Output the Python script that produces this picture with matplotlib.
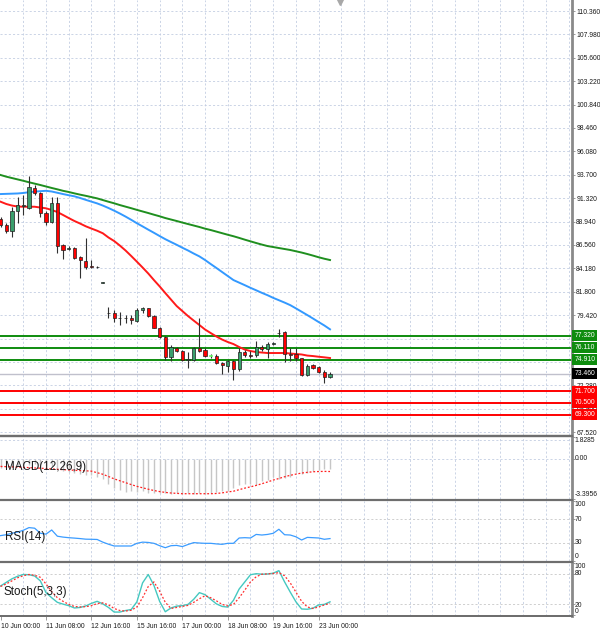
import matplotlib
matplotlib.use('Agg')
import matplotlib.pyplot as plt
from matplotlib.patches import Rectangle
import matplotlib.transforms as mtransforms

# ---------------- data ----------------
opens = [89.20, 88.59, 88.01, 90.04, 90.52, 90.29, 92.38, 91.81, 89.84, 88.93,
         90.79, 86.55, 86.12, 86.28, 85.30, 84.96, 84.42, 84.30, 82.70, 79.62,
         79.61, 79.11, 79.10, 79.16, 78.82, 79.91, 80.12, 79.36, 78.14, 77.23,
         75.19, 76.11, 75.77, 74.85, 74.85, 76.11, 75.87, 75.25, 75.29, 74.58,
         74.28, 74.75, 73.94, 75.70, 75.30, 75.36, 76.21, 75.98, 76.48, 77.57,
         77.74, 75.37, 75.44, 75.03, 73.33, 74.35, 74.17, 73.65, 73.16]
highs = [89.40, 88.79, 90.45, 91.47, 91.64, 93.57, 92.66, 91.98, 90.01, 91.47,
         91.41, 86.66, 86.45, 86.38, 85.44, 87.24, 85.03, 84.42, 82.76, 80.28,
         79.94, 79.71, 79.44, 79.44, 80.12, 80.22, 80.18, 79.43, 78.24, 77.33,
         76.38, 76.21, 75.87, 75.64, 76.21, 79.16, 76.04, 75.47, 75.43, 74.68,
         74.85, 74.85, 76.11, 75.87, 75.77, 76.79, 76.38, 76.66, 76.72, 78.00,
         77.81, 76.05, 76.05, 75.09, 74.42, 74.45, 74.28, 73.82, 73.64]
lows = [88.39, 87.74, 87.34, 88.76, 89.61, 90.19, 91.64, 89.43, 88.59, 88.82,
        85.77, 85.10, 86.05, 85.10, 83.17, 84.08, 84.19, 84.19, 82.68, 79.16,
        78.75, 78.41, 78.59, 78.49, 78.72, 79.61, 79.26, 78.08, 77.12, 74.85,
        74.75, 75.67, 74.75, 74.07, 74.75, 75.64, 75.19, 75.06, 74.42, 73.40,
        73.67, 72.82, 73.74, 75.19, 75.09, 75.19, 75.77, 75.03, 76.38, 77.22,
        74.68, 74.75, 74.75, 73.23, 73.26, 73.94, 73.50, 72.49, 73.05]
closes = [88.59, 88.01, 90.04, 90.62, 90.62, 92.47, 91.81, 89.84, 88.93, 90.86,
          86.45, 86.05, 86.28, 85.20, 85.03, 84.35, 84.29, 84.28, 82.74, 79.64,
          79.10, 79.09, 79.10, 78.90, 79.94, 80.12, 79.36, 78.14, 77.23, 75.19,
          76.21, 75.77, 74.85, 74.95, 76.11, 75.77, 75.29, 75.28, 74.52, 74.35,
          74.75, 73.94, 75.70, 75.36, 75.28, 76.21, 75.98, 76.45, 76.50, 77.59,
          75.44, 75.35, 75.03, 73.33, 74.28, 74.07, 73.60, 73.16, 73.46]

ma_fast = [90.96, 90.73, 90.57, 90.47, 90.45, 90.45, 90.45, 90.37, 90.29, 90.12,
           89.91, 89.61, 89.30, 89.00, 88.74, 88.46, 88.23, 88.01, 87.75, 87.32,
           86.96, 86.50, 86.00, 85.44, 84.86, 84.27, 83.66, 82.99, 82.35, 81.67,
           81.01, 80.35, 79.84, 79.33, 78.87, 78.42, 77.96, 77.60, 77.25, 76.94,
           76.69, 76.48, 76.18, 75.92, 75.77, 75.67, 75.62, 75.57, 75.57, 75.57,
           75.57, 75.52, 75.47, 75.42, 75.31, 75.26, 75.19, 75.13, 75.06]
ma_mid = [91.74, 91.76, 91.78, 91.80, 91.85, 91.93, 91.99, 92.03, 92.07, 92.00,
          91.87, 91.74, 91.62, 91.51, 91.34, 91.15, 90.97, 90.79, 90.57, 90.32,
          90.05, 89.76, 89.45, 89.12, 88.77, 88.45, 88.12, 87.80, 87.47, 87.15,
          86.86, 86.58, 86.28, 86.00, 85.69, 85.40, 85.03, 84.62, 84.22, 83.81,
          83.40, 82.99, 82.73, 82.47, 82.20, 81.95, 81.69, 81.45, 81.18, 80.94,
          80.70, 80.44, 80.11, 79.77, 79.43, 79.08, 78.72, 78.37, 77.98]
ma_slow = [93.68, 93.51, 93.37, 93.23, 93.09, 92.94, 92.80, 92.66, 92.51, 92.36,
           92.22, 92.07, 91.95, 91.81, 91.68, 91.56, 91.43, 91.30, 91.13, 90.96,
           90.80, 90.62, 90.46, 90.30, 90.13, 89.97, 89.81, 89.64, 89.48, 89.30,
           89.15, 89.00, 88.84, 88.69, 88.54, 88.39, 88.22, 88.08, 87.92, 87.76,
           87.60, 87.45, 87.28, 87.10, 86.93, 86.76, 86.60, 86.45, 86.35, 86.25,
           86.15, 86.05, 85.92, 85.79, 85.64, 85.48, 85.31, 85.16, 85.03]

macd_hist = [-0.75, -0.80, -0.72, -0.65, -0.60, -0.50, -0.48, -0.55, -0.65, -0.62,
             -0.85, -1.00, -1.10, -1.20, -1.30, -1.35, -1.40, -1.55, -1.69, -2.10,
             -2.50, -2.67, -2.80, -2.75, -2.80, -2.75, -2.85, -2.90, -2.85, -2.90,
             -2.95, -2.88, -3.00, -2.90, -2.95, -2.90, -2.95, -2.88, -2.82, -2.75,
             -2.72, -2.50, -2.25, -2.10, -2.15, -2.25, -1.88, -1.77, -1.55, -1.69,
             -1.60, -1.50, -1.12, -1.26, -1.21, -1.00, -0.93, -0.84, -0.90]
macd_signal = [-0.65, -0.67, -0.69, -0.71, -0.73, -0.75, -0.78, -0.80, -0.83, -0.86,
               -0.89, -0.92, -0.95, -0.98, -1.00, -1.02, -1.05, -1.18, -1.31, -1.50,
               -1.70, -1.86, -2.02, -2.18, -2.33, -2.45, -2.57, -2.68, -2.77, -2.84,
               -2.89, -2.92, -2.95, -2.95, -2.95, -2.95, -2.95, -2.95, -2.93, -2.88,
               -2.80, -2.74, -2.61, -2.48, -2.37, -2.25, -2.11, -1.96, -1.80, -1.67,
               -1.52, -1.40, -1.30, -1.21, -1.15, -1.10, -1.08, -1.07, -1.08]
rsi = [42, 43.5, 46, 48, 51, 55.5, 54.5, 46, 44.5, 51.5,
       41, 39.5, 38.5, 37.8, 37, 36, 35.8, 35.5, 31, 27.5,
       24.5, 24.5, 24.5, 24.5, 29, 31, 30.5, 29, 25, 21.6,
       25, 25.5, 23.5, 27, 30.2, 29.5, 29, 29, 28, 27.3,
       29, 29, 38, 38.5, 38, 44, 43, 44, 45.9, 52.7,
       43.5, 43, 40, 34.6, 39, 38.5, 38, 35.8, 37]
stoch_k = [56, 63, 70, 75, 78.5, 78, 75.5, 66, 43, 33,
           24, 20.5, 17.5, 13, 14, 17, 22, 26, 21, 14,
           5, 5, 8, 10, 25, 62, 78.5, 57, 26, 5.6,
           13, 16.6, 17.5, 20, 30, 43, 39, 30, 21, 16,
           14.7, 28, 50, 64, 78, 80, 79, 79.5, 81, 86,
           64, 44, 25, 11, 10.5, 12.5, 19, 20, 25]
stoch_d = [55, 60, 66, 72, 76, 78.5, 77, 73, 60, 45,
           33, 26, 20, 16, 15, 15.5, 17.5, 21.5, 23, 19,
           12, 8, 7, 8.5, 15, 33, 55, 64, 46, 24,
           12, 14, 16, 18, 24, 31, 37, 33, 27, 20,
           17, 20, 33, 48, 64, 74, 79, 79.5, 80.5, 82,
           76, 62, 44, 26, 15, 12, 15, 19, 22]

price_ticks = [110.360, 107.980, 105.600, 103.220, 100.840, 98.460, 96.080, 93.700,
               91.320, 88.940, 86.560, 84.180, 81.800, 79.420, 77.040, 74.660,
               72.280, 69.900, 67.520]
resistance_levels = [77.320, 76.110, 74.910]
support_levels = [71.700, 70.500, 69.300]
last_price = 73.460
macd_ticks = [1.8285, 0.00, -3.3956]
rsi_ticks = [100, 70, 30, 0]
stoch_ticks = [100, 80, 20, 0]
time_label_bars = [0, 8, 16, 24, 32, 40, 48, 56]
time_labels = ['10 Jun 00:00', '11 Jun 08:00', '12 Jun 16:00', '15 Jun 16:00',
               '17 Jun 00:00', '18 Jun 08:00', '19 Jun 16:00', '23 Jun 00:00']

# ---------------- figure ----------------
W, H = 600, 632
plt.rcParams['font.family'] = ['Liberation Sans', 'DejaVu Sans']
fig = plt.figure(figsize=(W / 100, H / 100), dpi=100)
fig.patch.set_facecolor('white')

RIGHT = 572
def add_panel(top, bottom):
    return fig.add_axes([0, 1 - bottom / H, RIGHT / W, (bottom - top) / H])

ax_p = add_panel(0, 435)
ax_m = add_panel(437, 499)
ax_r = add_panel(500.5, 561)
ax_s = add_panel(562.5, 616)

n = len(closes)
idx = list(range(n))
XMIN, XMAX = -0.1, 100.6
GRID = dict(color='#c3cde2', lw=0.6, ls=(0, (2.5, 2.5)), zorder=0)
FS = 4.9
LBL = dict(fontsize=FS, color='#1a1a1a')

for ax in (ax_p, ax_m, ax_r, ax_s):
    ax.set_xlim(XMIN, XMAX)
    ax.set_facecolor('white')
    for k in range(4, 101, 4):
        ax.axvline(k, **GRID)
    for s in ('left', 'top', 'bottom'):
        ax.spines[s].set_visible(False)
    ax.spines['right'].set_color('#8a8a8a')
    ax.spines['right'].set_linewidth(2)
    ax.tick_params(axis='x', bottom=False, labelbottom=False)
    ax.yaxis.tick_right()
    ax.tick_params(axis='y', length=2, width=0.6, colors='#8a8a8a',
                   labelcolor='#1a1a1a', labelsize=FS, pad=1.0)

# ---- main price panel ----
ax_p.set_ylim(67.23, 111.48)
ax_p.set_yticks(price_ticks)
ax_p.set_yticklabels([f'{v:.3f}' for v in price_ticks])
for v in price_ticks:
    ax_p.axhline(v, **GRID)

ax_p.plot(idx, ma_slow, color='#1f8f1f', lw=1.4, zorder=2)
ax_p.plot(idx, ma_mid, color='#3399ff', lw=1.4, zorder=2)
ax_p.plot(idx, ma_fast, color='#ff1a1a', lw=1.4, zorder=2)

ax_p.axhline(last_price, color='#c0c0cc', lw=1.0, zorder=1)
for v in resistance_levels:
    ax_p.axhline(v, color='#0e8c0e', lw=1.4, zorder=1.5)
for v in support_levels:
    ax_p.axhline(v, color='#ff0000', lw=1.4, zorder=1.5)

BODY_W = 0.56
highlight_bar = 37
for i in idx:
    o, h, l, c = opens[i], highs[i], lows[i], closes[i]
    ax_p.vlines(i, l, h, color='#303030', lw=0.8, zorder=3)
    bull = c >= o
    fc = '#3a9e6c' if bull else '#ff0000'
    ec = '#202020'
    if i == highlight_bar:
        fc = ec = '#66ff66'
    bottom = min(o, c)
    height = max(abs(c - o), 0.07)
    ax_p.add_patch(Rectangle((i - BODY_W / 2, bottom), BODY_W, height,
                             facecolor=fc, edgecolor=ec, lw=0.5, zorder=4))

blend = mtransforms.blended_transform_factory(ax_p.transAxes, ax_p.transData)
def level_tag(v, color):
    ax_p.text(1.004, v, f'{v:.3f}', transform=blend, ha='left', va='center',
              fontsize=FS, color='white', zorder=10, clip_on=False,
              bbox=dict(boxstyle='square,pad=0.3', fc=color, ec='none'))
for v in resistance_levels:
    level_tag(v, '#0e8c0e')
for v in support_levels:
    level_tag(v, '#ff0000')
level_tag(last_price, '#000000')

# shift marker at top
ax_p.plot([n + 0.8], [0.995], marker='v', ms=4, color='#a8a8a8',
          transform=mtransforms.blended_transform_factory(ax_p.transData, ax_p.transAxes),
          clip_on=False, zorder=10)

# ---- MACD ----
ax_m.set_ylim(-3.3956, 1.8285)
ax_m.set_yticks(macd_ticks)
ax_m.set_yticklabels(['', '', ''])
ax_m.axhline(0, **GRID)
ax_m.axhline(1.60, **GRID)
ax_m.vlines(idx, 0, macd_hist, color='#c6c6c6', lw=1.0, zorder=2)
ax_m.plot(idx, macd_signal, color='#ff2020', lw=0.9, ls=(0, (1.5, 1.5)), zorder=3)
ax_m.text(0.009, 0.52, 'MACD(12,26,9)', transform=ax_m.transAxes, fontsize=8.4,
          color='#1a1a1a', va='center', ha='left', zorder=5)
fig.text(574.5 / W, 1 - 440.5 / H, '1.8285', va='center', ha='left', **LBL)
fig.text(574.5 / W, 1 - 458.7 / H, '0.00', va='center', ha='left', **LBL)
fig.text(574.5 / W, 1 - 494 / H, '-3.3956', va='center', ha='left', **LBL)

# ---- RSI ----
ax_r.set_ylim(-0.8, 101.2)
ax_r.set_yticks(rsi_ticks)
ax_r.set_yticklabels(['', '', '', ''])
for v in (70, 30):
    ax_r.axhline(v, color='#c8c8c8', lw=0.6, ls=(0, (2.5, 2.5)), zorder=0)
ax_r.plot(idx, rsi, color='#3b9cff', lw=0.9, zorder=3)
ax_r.text(0.009, 0.39, 'RSI(14)', transform=ax_r.transAxes, fontsize=8.4,
          color='#1a1a1a', va='center', ha='left', zorder=5)
for v, y in zip(rsi_ticks, (505, 519.5, 543, 556.5)):
    fig.text(574.5 / W, 1 - y / H, str(v), va='center', ha='left', **LBL)

# ---- Stochastic ----
ax_s.set_ylim(-2.7, 101.9)
ax_s.set_yticks(stoch_ticks)
ax_s.set_yticklabels(['', '', '', ''])
for v in (80, 20):
    ax_s.axhline(v, color='#c8c8c8', lw=0.6, ls=(0, (2.5, 2.5)), zorder=0)
ax_s.plot(idx, stoch_k, color='#45c8c0', lw=1.0, zorder=3)
ax_s.plot(idx, stoch_d, color='#ff3030', lw=0.9, ls=(0, (1.5, 1.5)), zorder=3)
ax_s.text(0.006, 0.45, 'Stoch(5,3,3)', transform=ax_s.transAxes, fontsize=8.4,
          color='#1a1a1a', va='center', ha='left', zorder=5)
for v, y in zip(stoch_ticks, (566.5, 573.5, 605.5, 611.5)):
    fig.text(574.5 / W, 1 - y / H, str(v), va='center', ha='left', **LBL)

ax_s.set_xticks(time_label_bars)
ax_s.set_xticklabels(time_labels, ha='left')
ax_s.tick_params(axis='x', bottom=True, labelbottom=True, length=3, width=0.6,
                 colors='#8a8a8a', labelcolor='#1a1a1a', labelsize=FS, pad=2)

# panel separators
for y, lw in ((436, 2.4), (499.5, 2.2), (561.8, 2.2), (616.2, 2.0)):
    fig.add_artist(plt.Line2D([0, RIGHT / W], [1 - y / H, 1 - y / H],
                              color='#6e6e6e', lw=lw * 0.72, transform=fig.transFigure))

fig.savefig('out.png', dpi=100, facecolor='white')
